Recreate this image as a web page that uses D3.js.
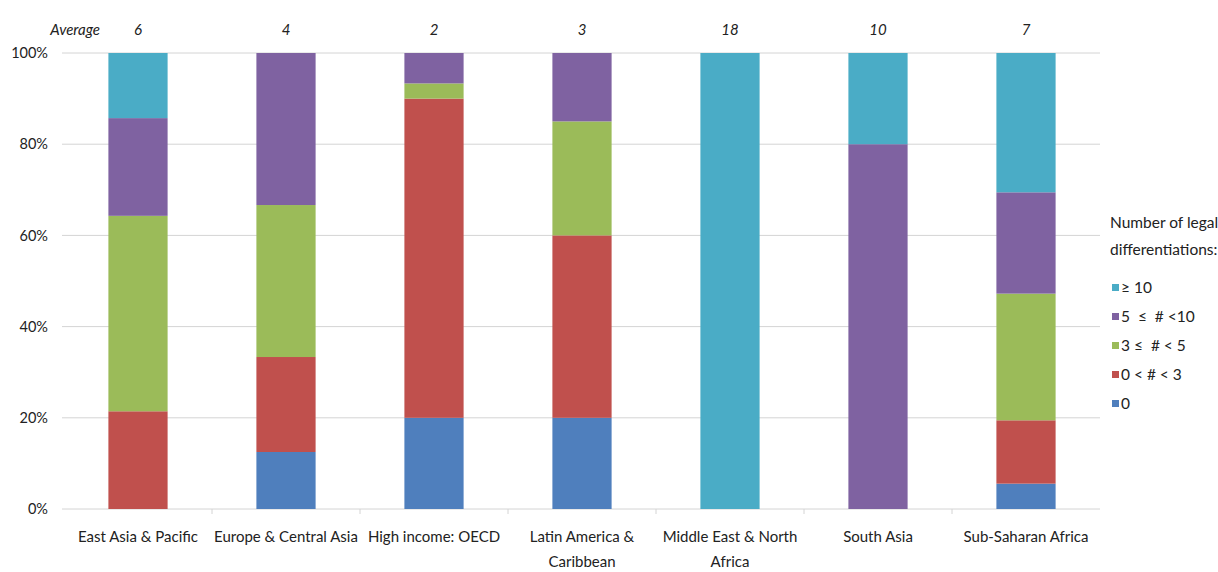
<!DOCTYPE html>
<html>
<head>
<meta charset="utf-8">
<script src="https://cdn.jsdelivr.net/npm/d3@7"></script>
<style>
  html, body { margin: 0; padding: 0; background: #fff; }
  svg { display: block; font-family: Lato, "Open Sans", "Noto Sans", sans-serif; }
  text { white-space: pre; }
</style>
</head>
<body>
<svg id="chart" width="1218" height="572"></svg>
<script>
// Regions along the x axis
const categories = [
  "East Asia & Pacific", "Europe & Central Asia", "High income: OECD",
  "Latin America & Caribbean", "Middle East & North Africa", "South Asia",
  "Sub-Saharan Africa"
];
const categoryLines = [
  ["East Asia & Pacific"], ["Europe & Central Asia"], ["High income: OECD"],
  ["Latin America &", "Caribbean"], ["Middle East & North", "Africa"], ["South Asia"],
  ["Sub-Saharan Africa"]
];

// Share of economies (%) in each band of legal differentiations
const none        = [0,     12.5,  20,    20, 0,   0,  5.56];
const oneToThree  = [21.43, 20.83, 70,    40, 0,   0,  13.89];
const threeToFive = [42.86, 33.33, 3.33,  25, 0,   0,  27.78];
const fiveToTen   = [21.43, 33.34, 6.67,  15, 0,   80, 22.22];
const tenOrMore   = [14.28, 0,     0,     0,  100, 20, 30.55];

// Average number of differentiations per region
const averages = [6, 4, 2, 3, 18, 10, 7];

const yTicks = [0, 20, 40, 60, 80, 100];

const seriesKeys   = ["none", "oneToThree", "threeToFive", "fiveToTen", "tenOrMore"];
const seriesLabels = ["0", "0 < # < 3", "3 \u2264  # < 5", "5  \u2264  # <10", "\u2265 10"];
const seriesColors = ["#4f7fbd", "#c0504d", "#9bbb59", "#7f62a1", "#4aacc6"];

const rows = categories.map((c, i) => ({
  category: c,
  none: none[i], oneToThree: oneToThree[i], threeToFive: threeToFive[i],
  fiveToTen: fiveToTen[i], tenOrMore: tenOrMore[i]
}));

const svg = d3.select("#chart");

const x = d3.scaleBand().domain(categories).range([64, 1100])
  .paddingInner(0.6).paddingOuter(0.3);
const y = d3.scaleLinear().domain([0, 100]).range([509, 53]);

// Horizontal gridlines
svg.append("g")
  .selectAll("line").data(yTicks).join("line")
  .attr("x1", 62).attr("x2", 1100)
  .attr("y1", d => y(d)).attr("y2", d => y(d))
  .attr("stroke", "#d4d4d4").attr("stroke-width", 1);

// Y axis labels
const yAxis = svg.append("g").attr("transform", "translate(50,0)")
  .call(d3.axisLeft(y).tickValues(yTicks).tickSize(0).tickPadding(2).tickFormat(d => d + "%"));
yAxis.select(".domain").remove();
yAxis.selectAll("text").attr("font-size", 14.5).attr("fill", "#222")
  .attr("font-family", "Lato, 'Open Sans', sans-serif");

// Small ticks at band boundaries
const step = x.step();
const boundaries = d3.range(categories.length + 1).map(i => x.range()[0] + i * step);
svg.append("g").selectAll("line").data(boundaries.slice(1, -1)).join("line")
  .attr("x1", d => d).attr("x2", d => d)
  .attr("y1", y(0)).attr("y2", y(0) + 5)
  .attr("stroke", "#d4d4d4");

// Stacked bars
const stacked = d3.stack().keys(seriesKeys)(rows);
svg.append("g").selectAll("g").data(stacked).join("g")
  .attr("fill", (d, i) => seriesColors[i])
  .selectAll("rect").data(d => d).join("rect")
  .attr("x", d => x(d.data.category))
  .attr("width", x.bandwidth())
  .attr("y", d => y(d[1]))
  .attr("height", d => Math.max(0, y(d[0]) - y(d[1])));

// Category labels
const xl = svg.append("g").attr("font-size", 15).attr("fill", "#222");
categories.forEach((c, i) => {
  const t = xl.append("text")
    .attr("x", x(c) + x.bandwidth() / 2)
    .attr("y", 542)
    .attr("text-anchor", "middle");
  categoryLines[i].forEach((line, j) => {
    t.append("tspan").attr("x", x(c) + x.bandwidth() / 2)
      .attr("dy", j === 0 ? 0 : 25).text(line);
  });
});

// Averages row
const avg = svg.append("g").attr("font-size", 15).attr("font-style", "italic").attr("fill", "#222");
avg.append("text").attr("x", 100).attr("y", 35).attr("text-anchor", "end").text("Average");
avg.selectAll("text.v").data(averages).join("text").attr("class", "v")
  .attr("x", (d, i) => x(categories[i]) + x.bandwidth() / 2)
  .attr("y", 35).attr("text-anchor", "middle").text(d => d);

// Legend
const lg = svg.append("g").attr("font-size", 15.5).attr("fill", "#222");
lg.append("text").attr("x", 1110).attr("y", 228).text("Number of legal");
lg.append("text").attr("x", 1110).attr("y", 255).text("differentiations:");
const order = [4, 3, 2, 1, 0];
order.forEach((k, j) => {
  const cy = 288 + j * 29;
  lg.append("rect").attr("x", 1112).attr("y", cy - 4).attr("width", 7).attr("height", 7)
    .attr("fill", seriesColors[k]);
  lg.append("text").attr("x", 1121).attr("y", cy + 5).text(seriesLabels[k]);
});
</script>
</body>
</html>
